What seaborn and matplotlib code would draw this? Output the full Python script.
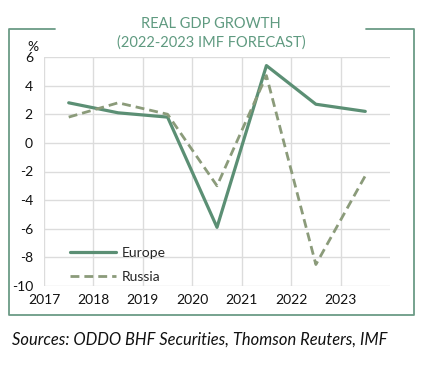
import matplotlib
matplotlib.use("Agg")
import matplotlib.pyplot as plt
import seaborn as sns
import pandas as pd
import numpy as np
from matplotlib.lines import Line2D

years = ["2017", "2018", "2019", "2020", "2021", "2022", "2023"]
europe = [2.8, 2.1, 1.8, -5.9, 5.4, 2.7, 2.2]
russia = [1.8, 2.8, 2.0, -3.0, 4.7, -8.5, -2.3]
yticks = [6, 4, 2, 0, -2, -4, -6, -8, -10]

sns.set_theme(style="white")
plt.rcParams['font.family'] = ['Lato', 'DejaVu Sans']

pos = np.arange(len(years)) + 0.5
df = pd.DataFrame({
    "pos": np.concatenate([pos, pos]),
    "value": europe + russia,
    "series": ["Europe"] * len(years) + ["Russia"] * len(years),
})

fig = plt.figure(figsize=(4.23, 3.67), dpi=100)
ax = fig.add_axes([44/423, 1-286/367, (390-44)/423, (286-57)/367])

c_eu = "#5b8f74"
c_ru = "#8b9b7a"
sns.lineplot(data=df[df.series == "Europe"], x="pos", y="value", ax=ax,
             color=c_eu, linewidth=2.3, label="Europe")
sns.lineplot(data=df[df.series == "Russia"], x="pos", y="value", ax=ax,
             color=c_ru, linewidth=2.0, linestyle=(0, (3.2, 1.8)), label="Russia")

ax.set_xlim(0, 7)
ax.set_ylim(-10, 6)
ax.set_xticks(np.arange(len(years)))
ax.set_xticklabels(years)
ax.set_yticks(yticks)
ax.set_yticklabels([str(v) for v in yticks])
ax.grid(True, color="#dcdcdc", linewidth=1.0)
ax.set_axisbelow(True)
for s in ax.spines.values():
    s.set_visible(False)
ax.tick_params(axis="both", length=0, labelsize=10, colors="#111111")
ax.tick_params(axis="x", pad=6)
ax.tick_params(axis="y", pad=8)
ax.set_xlabel("")
ax.set_ylabel("")

leg = ax.legend(loc="lower left", bbox_to_anchor=(0.04, -0.04), frameon=False,
                fontsize=10, handlelength=3.3, labelspacing=0.85, handletextpad=0.4)

fig.text(33/423, 1-47/367, "%", fontsize=10, ha="center", va="center", color="#111111")

tc = "#5f9a80"
fig.text(211/423, 1-24/367, "REAL GDP GROWTH", fontsize=10.5, ha="center", va="center", color=tc)
fig.text(211/423, 1-43/367, "(2022-2023 IMF FORECAST)", fontsize=10.5, ha="center", va="center", color=tc)

fc = "#6b9b86"
def L(xs, ys):
    fig.add_artist(Line2D([x/423 for x in xs], [1-y/367 for y in ys], color=fc, linewidth=1.3))
L([55, 9, 9, 414, 414, 366], [29, 29, 315, 315, 29, 29])

fig.text(12/423, 1-340/367, "Sources: ODDO BHF Securities, Thomson Reuters, IMF",
         fontsize=11.9, style="italic", ha="left", va="center", color="#111111")

fig.savefig("out.png", dpi=100)
